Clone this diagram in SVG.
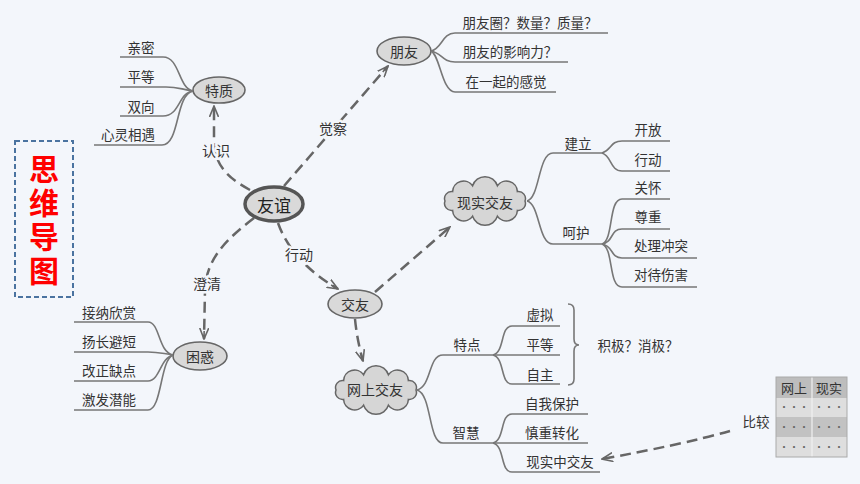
<svg xmlns="http://www.w3.org/2000/svg" width="860" height="484" viewBox="0 0 860 484">
<style>
text{font-family:"Noto Sans CJK SC","Liberation Sans",sans-serif;fill:#333;text-anchor:middle;dominant-baseline:central}
.leaf{font-size:13.5px}
.node{font-size:14px}
.lbl{font-size:14px;stroke:#f3f6fb;stroke-width:5px;paint-order:stroke;stroke-linejoin:round}
.br{fill:none;stroke:#777;stroke-width:1.6}
.dash{fill:none;stroke:#666;stroke-width:2.5;stroke-dasharray:11 6;marker-end:url(#arr)}
.ell{fill:#d9d9d9;stroke:#666;stroke-width:1.6}
.cloud{fill:#d6d6d6;stroke:#666;stroke-width:1.5}
</style>
<defs>
<marker id="arr" viewBox="0 0 12 10" refX="11" refY="5" markerWidth="12" markerHeight="10" markerUnits="userSpaceOnUse" orient="auto">
<path d="M0,0.5 L11,5 L0,9.5 M3,5 L11,5" fill="none" stroke="#666" stroke-width="1.6" stroke-dasharray="none"/>
</marker>
<path id="cloudShape" d="M40,0 A7,7 0 0 1 32.4,9.4 A11,11 0 0 1 12.4,15.2 A13,13 0 0 1 -12.4,15.2 A11,11 0 0 1 -32.4,9.4 A7,7 0 0 1 -40,0 A7,7 0 0 1 -32.4,-9.4 A11,11 0 0 1 -12.4,-15.2 A13,13 0 0 1 12.4,-15.2 A11,11 0 0 1 32.4,-9.4 A7,7 0 0 1 40,0 Z"/>
</defs>
<rect x="0" y="0" width="860" height="484" fill="#f3f6fb"/>

<g id="title">
<rect x="15" y="141" width="58" height="156" fill="none" stroke="#4a73a0" stroke-width="2" stroke-dasharray="5 3"/>
<text x="44" y="154" style="writing-mode:vertical-rl;text-anchor:start;letter-spacing:4px;font-size:30px;font-weight:bold;fill:#ff0000">思维导图</text>
</g>

<g id="connectors">
<path class="dash" d="M250,190 C232,180 214,168 214,140 L214,106"/>
<path class="dash" d="M284,186 L388,66"/>
<path class="dash" d="M278,223 Q292,262 338,289"/>
<path class="dash" d="M254,218 C228,238 206,258 205,290 L204,339"/>
<path class="dash" d="M375,292 L450,227"/>
<path class="dash" d="M355,319 Q357,340 363,361"/>
<path class="dash" d="M730,431 Q680,445 602,459"/>
<text class="lbl" x="216" y="150">认识</text>
<text class="lbl" x="333" y="128">觉察</text>
<text class="lbl" x="299" y="254">行动</text>
<text class="lbl" x="207" y="283">澄清</text>
</g>

<g id="youyi">
<ellipse cx="274" cy="204" rx="29" ry="17" fill="#d9d9d9" stroke="#555" stroke-width="3.5"/>
<text x="274" y="204" style="font-size:17px;fill:#222">友谊</text>
</g>

<g id="tezhi">
<ellipse class="ell" cx="219" cy="90" rx="26" ry="13"/>
<text class="node" x="219" y="90">特质</text>
<path class="br" d="M193,91 C178,88 180,57 163,57 H120"/>
<path class="br" d="M193,91 C180,89 178,87 166,87 H120"/>
<path class="br" d="M193,91 C178,93 180,116 163,116 H120"/>
<path class="br" d="M193,91 C175,95 180,145 162,145 H94"/>
<text class="leaf" x="141" y="47">亲密</text>
<text class="leaf" x="141" y="76">平等</text>
<text class="leaf" x="141" y="106">双向</text>
<text class="leaf" x="128" y="134">心灵相遇</text>
</g>

<g id="pengyou">
<ellipse class="ell" cx="404" cy="51" rx="27" ry="14"/>
<text class="node" x="404" y="51">朋友</text>
<path class="br" d="M431,51 C442,49 442,33 455,33 H608"/>
<path class="br" d="M431,51 C442,53 442,62 455,62 H568"/>
<path class="br" d="M431,51 C440,55 442,92 455,92 H556"/>
<text class="leaf" x="530" y="22">朋友圈？数量？质量？</text>
<text class="leaf" x="510" y="51">朋友的影响力？</text>
<text class="leaf" x="506" y="81">在一起的感觉</text>
</g>

<g id="jiaoyou">
<ellipse class="ell" cx="355" cy="304" rx="27" ry="14"/>
<text class="node" x="355" y="304">交友</text>
</g>

<g id="kunhuo">
<ellipse class="ell" cx="200" cy="356" rx="27" ry="14"/>
<text class="node" x="200" y="356">困惑</text>
<path class="br" d="M173,355 C158,352 160,322 148,322 H74"/>
<path class="br" d="M173,355 C160,353 158,352 148,352 H74"/>
<path class="br" d="M173,355 C160,358 160,381 148,381 H74"/>
<path class="br" d="M173,355 C160,360 162,410 148,410 H74"/>
<text class="leaf" x="109" y="312">接纳欣赏</text>
<text class="leaf" x="109" y="341">扬长避短</text>
<text class="leaf" x="109" y="370">改正缺点</text>
<text class="leaf" x="109" y="399">激发潜能</text>
</g>

<g id="xianshi">
<use href="#cloudShape" class="cloud" transform="translate(485,201)"/>
<text class="node" x="485" y="202">现实交友</text>
<path class="br" d="M527,201 C540,198 538,153 553,153 H602"/>
<path class="br" d="M527,201 C540,204 538,244 553,244 H602"/>
<text class="leaf" x="578" y="143">建立</text>
<text class="leaf" x="576" y="232">呵护</text>
<path class="br" d="M602,153 C612,150 610,141 622,141 H670"/>
<path class="br" d="M602,153 C612,156 610,171 622,171 H670"/>
<text class="leaf" x="648" y="129">开放</text>
<text class="leaf" x="648" y="159">行动</text>
<path class="br" d="M602,244 C614,240 608,199 622,199 H670"/>
<path class="br" d="M602,244 C614,242 610,229 622,229 H670"/>
<path class="br" d="M602,244 C614,246 610,258 622,258 H697"/>
<path class="br" d="M602,244 C614,248 608,287 622,287 H697"/>
<text class="leaf" x="648" y="187">关怀</text>
<text class="leaf" x="648" y="216">尊重</text>
<text class="leaf" x="661" y="245">处理冲突</text>
<text class="leaf" x="661" y="274">对待伤害</text>
</g>

<g id="wangshang">
<use href="#cloudShape" class="cloud" transform="translate(376,390)"/>
<text class="node" x="375" y="389">网上交友</text>
<path class="br" d="M417,390 C432,386 428,355 443,355 H493"/>
<path class="br" d="M417,390 C432,394 428,443 443,443 H493"/>
<text class="leaf" x="467" y="344">特点</text>
<text class="leaf" x="466" y="432">智慧</text>
<path class="br" d="M493,355 C505,352 500,326 512,326 H560"/>
<path class="br" d="M493,355 H560"/>
<path class="br" d="M493,355 C505,358 500,384 512,384 H560"/>
<text class="leaf" x="540" y="314">虚拟</text>
<text class="leaf" x="540" y="344">平等</text>
<text class="leaf" x="540" y="374">自主</text>
<path class="br" d="M568,304 Q574,304 574,310 V339 Q574,345 579,345 Q574,345 574,351 V379 Q574,385 568,385"/>
<text class="leaf" x="638" y="345">积极？消极？</text>
<path class="br" d="M493,443 C505,440 500,414 512,414 H588"/>
<path class="br" d="M493,443 H588"/>
<path class="br" d="M493,443 C505,446 500,472 512,472 H600"/>
<text class="leaf" x="552" y="403">自我保护</text>
<text class="leaf" x="552" y="432">慎重转化</text>
<text class="leaf" x="560" y="461">现实中交友</text>
</g>

<g id="compare">
<text class="leaf" x="756" y="421">比较</text>
<rect x="776" y="377" width="71" height="21" fill="#bdbdbd"/>
<rect x="776" y="398" width="71" height="19" fill="#dedede"/>
<rect x="776" y="417" width="71" height="20" fill="#c2c2c2"/>
<rect x="776" y="437" width="71" height="20" fill="#dedede"/>
<line x1="812" y1="377" x2="812" y2="457" stroke="#f0f0f0" stroke-width="1.2"/>
<rect x="776" y="377" width="71" height="80" fill="none" stroke="#aaa" stroke-width="1"/>
<text x="794" y="387.5" style="font-size:13px">网上</text>
<text x="829" y="387.5" style="font-size:13px">现实</text>
<text x="794" y="406" style="font-size:10px;fill:#666">···</text>
<text x="829" y="406" style="font-size:10px;fill:#666">···</text>
<text x="794" y="426" style="font-size:10px;fill:#666">···</text>
<text x="829" y="426" style="font-size:10px;fill:#666">···</text>
<text x="794" y="446" style="font-size:10px;fill:#666">···</text>
<text x="829" y="446" style="font-size:10px;fill:#666">···</text>
</g>
</svg>
